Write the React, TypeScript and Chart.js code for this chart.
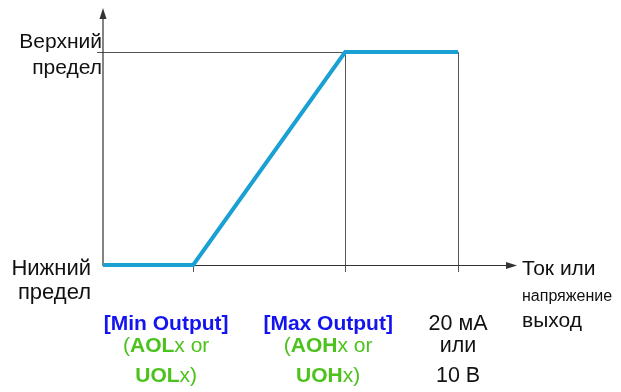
import React, { useEffect, useRef } from "react";
import { Chart, registerables } from "chart.js";

Chart.register(...registerables);

// x: output signal in % of full scale (0 = origin, 100 = 20 мА / 10 В)
const breakpointsX = [0, 25.4, 68.2, 100];
// y: resulting value in % between lower (0) and upper (100) limit
const outputY = [0, 0, 100, 100];
const xAxisMax = 116.6;
const yAxisMax = 120.7;

const upperLabel = ["Верхний", "предел"];
const lowerLabel = ["Нижний", "предел"];
const axisTitle = ["Ток или", "напряжение", "выход"];
const fullScaleLabel = ["20 мА", "или", "10 В"];

const BLUE = "#1414ee";
const GREEN = "#4cc21c";
const LINE = "#1aa0d2";
const FONT = "'Liberation Sans', Arial, sans-serif";

type Seg = { t: string; bold?: boolean };

function drawSegs(ctx: CanvasRenderingContext2D, segs: Seg[], cx: number, y: number, size: number, color: string) {
  const fontOf = (s: Seg) => `${s.bold ? "bold " : ""}${size}px ${FONT}`;
  let total = 0;
  for (const s of segs) {
    ctx.font = fontOf(s);
    total += ctx.measureText(s.t).width;
  }
  let x = cx - total / 2;
  ctx.fillStyle = color;
  ctx.textAlign = "left";
  for (const s of segs) {
    ctx.font = fontOf(s);
    ctx.fillText(s.t, x, y);
    x += ctx.measureText(s.t).width;
  }
}

const diagramPlugin = {
  id: "diagram",
  beforeDatasetsDraw(chart: any) {
    const { ctx, scales } = chart;
    const xs = scales.x;
    const ys = scales.y;
    const x0 = xs.getPixelForValue(0);
    const xMin = xs.getPixelForValue(breakpointsX[1]);
    const xMaxO = xs.getPixelForValue(breakpointsX[2]);
    const xFull = xs.getPixelForValue(breakpointsX[3]);
    const y0 = ys.getPixelForValue(0);
    const yTop = ys.getPixelForValue(100);
    const xEnd = xs.getPixelForValue(xAxisMax);
    const yEnd = ys.getPixelForValue(yAxisMax);
    ctx.save();
    // guide lines
    ctx.strokeStyle = "#555";
    ctx.lineWidth = 1;
    ctx.beginPath();
    ctx.moveTo(x0 - 6, Math.round(yTop) + 0.5);
    ctx.lineTo(xMaxO, Math.round(yTop) + 0.5);
    for (const xp of [xMaxO, xFull]) {
      ctx.moveTo(Math.round(xp) + 0.5, yTop);
      ctx.lineTo(Math.round(xp) + 0.5, y0 + 7);
    }
    ctx.moveTo(Math.round(xMin) + 0.5, y0);
    ctx.lineTo(Math.round(xMin) + 0.5, y0 + 7);
    ctx.stroke();
    // axes
    ctx.strokeStyle = "#333";
    ctx.lineWidth = 1.2;
    ctx.beginPath();
    ctx.moveTo(x0, y0 + 1);
    ctx.lineTo(x0, yEnd + 8);
    ctx.moveTo(x0, y0 + 0.5);
    ctx.lineTo(xEnd - 8, y0 + 0.5);
    ctx.stroke();
    ctx.fillStyle = "#333";
    ctx.beginPath();
    ctx.moveTo(x0, yEnd);
    ctx.lineTo(x0 - 3.5, yEnd + 11);
    ctx.lineTo(x0 + 3.5, yEnd + 11);
    ctx.closePath();
    ctx.fill();
    ctx.beginPath();
    ctx.moveTo(xEnd, y0 + 0.5);
    ctx.lineTo(xEnd - 11, y0 - 3);
    ctx.lineTo(xEnd - 11, y0 + 4);
    ctx.closePath();
    ctx.fill();
    ctx.restore();
  },
  afterDraw(chart: any) {
    const { ctx, scales } = chart;
    const xs = scales.x;
    const ys = scales.y;
    const x0 = xs.getPixelForValue(0);
    const xMin = xs.getPixelForValue(breakpointsX[1]);
    const xMaxO = xs.getPixelForValue(breakpointsX[2]);
    const xFull = xs.getPixelForValue(breakpointsX[3]);
    const xEnd = xs.getPixelForValue(xAxisMax);
    const y0 = ys.getPixelForValue(0);
    const yTop = ys.getPixelForValue(100);
    ctx.save();
    ctx.fillStyle = "#111";
    ctx.font = `21px ${FONT}`;
    ctx.textAlign = "right";
    ctx.textBaseline = "alphabetic";
    ctx.fillText(upperLabel[0], x0 - 1, yTop - 4);
    ctx.fillText(upperLabel[1], x0 - 1, yTop + 22);
    ctx.font = `22px ${FONT}`;
    ctx.fillText(lowerLabel[0], x0 - 12, y0 + 10);
    ctx.fillText(lowerLabel[1], x0 - 12, y0 + 34);
    ctx.textAlign = "left";
    ctx.font = `21px ${FONT}`;
    ctx.fillText(axisTitle[0], xEnd + 5, y0 + 10);
    ctx.font = `16px ${FONT}`;
    ctx.fillText(axisTitle[1], xEnd + 5, y0 + 36);
    ctx.font = `21px ${FONT}`;
    ctx.fillText(axisTitle[2], xEnd + 5, y0 + 62);

    const r1 = y0 + 65;
    const r2 = y0 + 87;
    const r3 = y0 + 117;
    const cMin = xMin - 27;
    const cMax = xMaxO - 17;
    drawSegs(ctx, [{ t: "[Min Output]", bold: true }], cMin, r1, 21, BLUE);
    drawSegs(ctx, [{ t: "(" }, { t: "AOL", bold: true }, { t: "x or" }], cMin, r2, 21, GREEN);
    drawSegs(ctx, [{ t: "UOL", bold: true }, { t: "x)" }], cMin, r3, 21, GREEN);
    drawSegs(ctx, [{ t: "[Max Output]", bold: true }], cMax, r1, 21, BLUE);
    drawSegs(ctx, [{ t: "(" }, { t: "AOH", bold: true }, { t: "x or" }], cMax, r2, 21, GREEN);
    drawSegs(ctx, [{ t: "UOH", bold: true }, { t: "x)" }], cMax, r3, 21, GREEN);
    drawSegs(ctx, [{ t: fullScaleLabel[0] }], xFull, r1, 21.5, "#111");
    drawSegs(ctx, [{ t: fullScaleLabel[1] }], xFull, r2, 21.5, "#111");
    drawSegs(ctx, [{ t: fullScaleLabel[2] }], xFull, r3, 21.5, "#111");
    ctx.restore();
  },
};

export default function App() {
  const ref = useRef<HTMLCanvasElement | null>(null);
  useEffect(() => {
    if (!ref.current) return;
    const chart = new Chart(ref.current, {
      type: "line",
      data: {
        datasets: [
          {
            data: breakpointsX.map((x, i) => ({ x, y: outputY[i] })),
            borderColor: LINE,
            borderWidth: 4,
            pointRadius: 0,
            tension: 0,
            clip: false as any,
            borderCapStyle: "butt",
            borderJoinStyle: "miter",
          },
        ],
      },
      options: {
        animation: false,
        responsive: false,
        maintainAspectRatio: false,
        layout: { padding: { left: 103, right: 104, top: 8, bottom: 127 } },
        plugins: { legend: { display: false }, tooltip: { enabled: false } },
        scales: {
          x: { type: "linear", min: 0, max: xAxisMax, display: false },
          y: { type: "linear", min: 0, max: yAxisMax, display: false },
        },
      },
      plugins: [diagramPlugin],
    });
    return () => chart.destroy();
  }, []);
  return (
    <div style={{ position: "fixed", left: 0, top: 0, width: 621, height: 392, background: "#fff" }}>
      <canvas ref={ref} width={621} height={392} />
    </div>
  );
}
